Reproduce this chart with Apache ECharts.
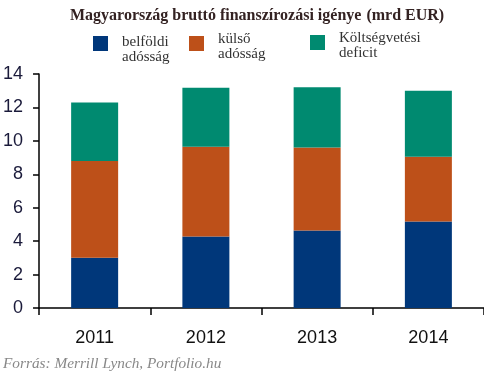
<!DOCTYPE html>
<html><head><meta charset="utf-8">
<style>html,body{margin:0;padding:0;background:#fff}#c{width:484px;height:381px}</style>
<script src="https://cdn.jsdelivr.net/npm/echarts@6/dist/echarts.min.js"></script>
</head><body><div id="c"></div>
<script>
var categories = ['2011', '2012', '2013', '2014'];
var belfoldi = [3.0, 4.28, 4.63, 5.17];
var kulso = [5.8, 5.37, 4.97, 3.88];
var deficit = [3.5, 3.53, 3.6, 3.95];
var yTicks = [0, 2, 4, 6, 8, 10, 12, 14];
var seriesNames = ['belföldi\nadósság', 'külső\nadósság', 'Költségvetési\ndeficit'];
var colors = ['#00377a', '#bd5019', '#008a70'];

var chart = echarts.init(document.getElementById('c'));
var serif = '"Liberation Serif", "Times New Roman", serif';
var sans = '"Liberation Sans", Arial, sans-serif';
function legendFor(i, left, top, shift) {
  return {
    data: [seriesNames[i]], left: left, top: top, orient: 'horizontal',
    itemWidth: 15, itemHeight: 15, itemGap: 0, icon: 'rect', padding: 0,
    selectedMode: false,
    formatter: function (name) {
      return '{s| }\n{t|' + name.split('\n').join('}\n{t|') + '}';
    },
    textStyle: {
      fontFamily: serif, fontSize: 15, color: '#333', padding: [0, 0, 0, 9],
      rich: {
        s: { fontSize: 2, lineHeight: shift, height: shift },
        t: { fontFamily: serif, fontSize: 15, color: '#333', lineHeight: 15 }
      }
    }
  };
}
chart.setOption({
  animation: false,
  title: {
    text: '{b|Magyarország bruttó finanszírozási igénye} {n|(mrd EUR)}',
    left: 70, top: 7, padding: 0,
    textStyle: { rich: {
      b: { fontFamily: serif, fontWeight: 'bold', fontSize: 16, color: '#332222' },
      n: { fontFamily: serif, fontSize: 16, color: '#332222' }
    } }
  },
  legend: [legendFor(0, 93, 22.5, 12), legendFor(1, 189, 25.5, 6), legendFor(2, 310, 24.5, 6)],
  grid: { left: 35, right: -9, top: 74, bottom: 73 },
  xAxis: {
    type: 'category', data: categories,
    axisLine: { lineStyle: { color: '#000', width: 1.5 } },
    axisTick: { show: true, length: 7, lineStyle: { color: '#000', width: 1.5 } },
    axisLabel: { margin: 21, fontFamily: sans, fontSize: 18, color: '#111' }
  },
  yAxis: {
    type: 'value', min: yTicks[0], max: yTicks[yTicks.length - 1], interval: 2,
    splitLine: { show: false },
    axisLine: { show: true, lineStyle: { color: '#000', width: 1.5 } },
    axisTick: { show: true, length: 6, lineStyle: { color: '#000', width: 1.5 } },
    axisLabel: { margin: 16, fontFamily: sans, fontSize: 18, color: '#1a1a3a' }
  },
  graphic: [{
    type: 'text', left: 3, top: 356,
    style: { text: 'Forrás: Merrill Lynch, Portfolio.hu', font: 'italic 15.3px ' + serif, fill: '#888' }
  }],
  series: [
    { name: seriesNames[0], type: 'bar', stack: 's', data: belfoldi, barWidth: 47, itemStyle: { color: colors[0] } },
    { name: seriesNames[1], type: 'bar', stack: 's', data: kulso, barWidth: 47, itemStyle: { color: colors[1] } },
    { name: seriesNames[2], type: 'bar', stack: 's', data: deficit, barWidth: 47, itemStyle: { color: colors[2] } }
  ]
});
</script></body></html>
